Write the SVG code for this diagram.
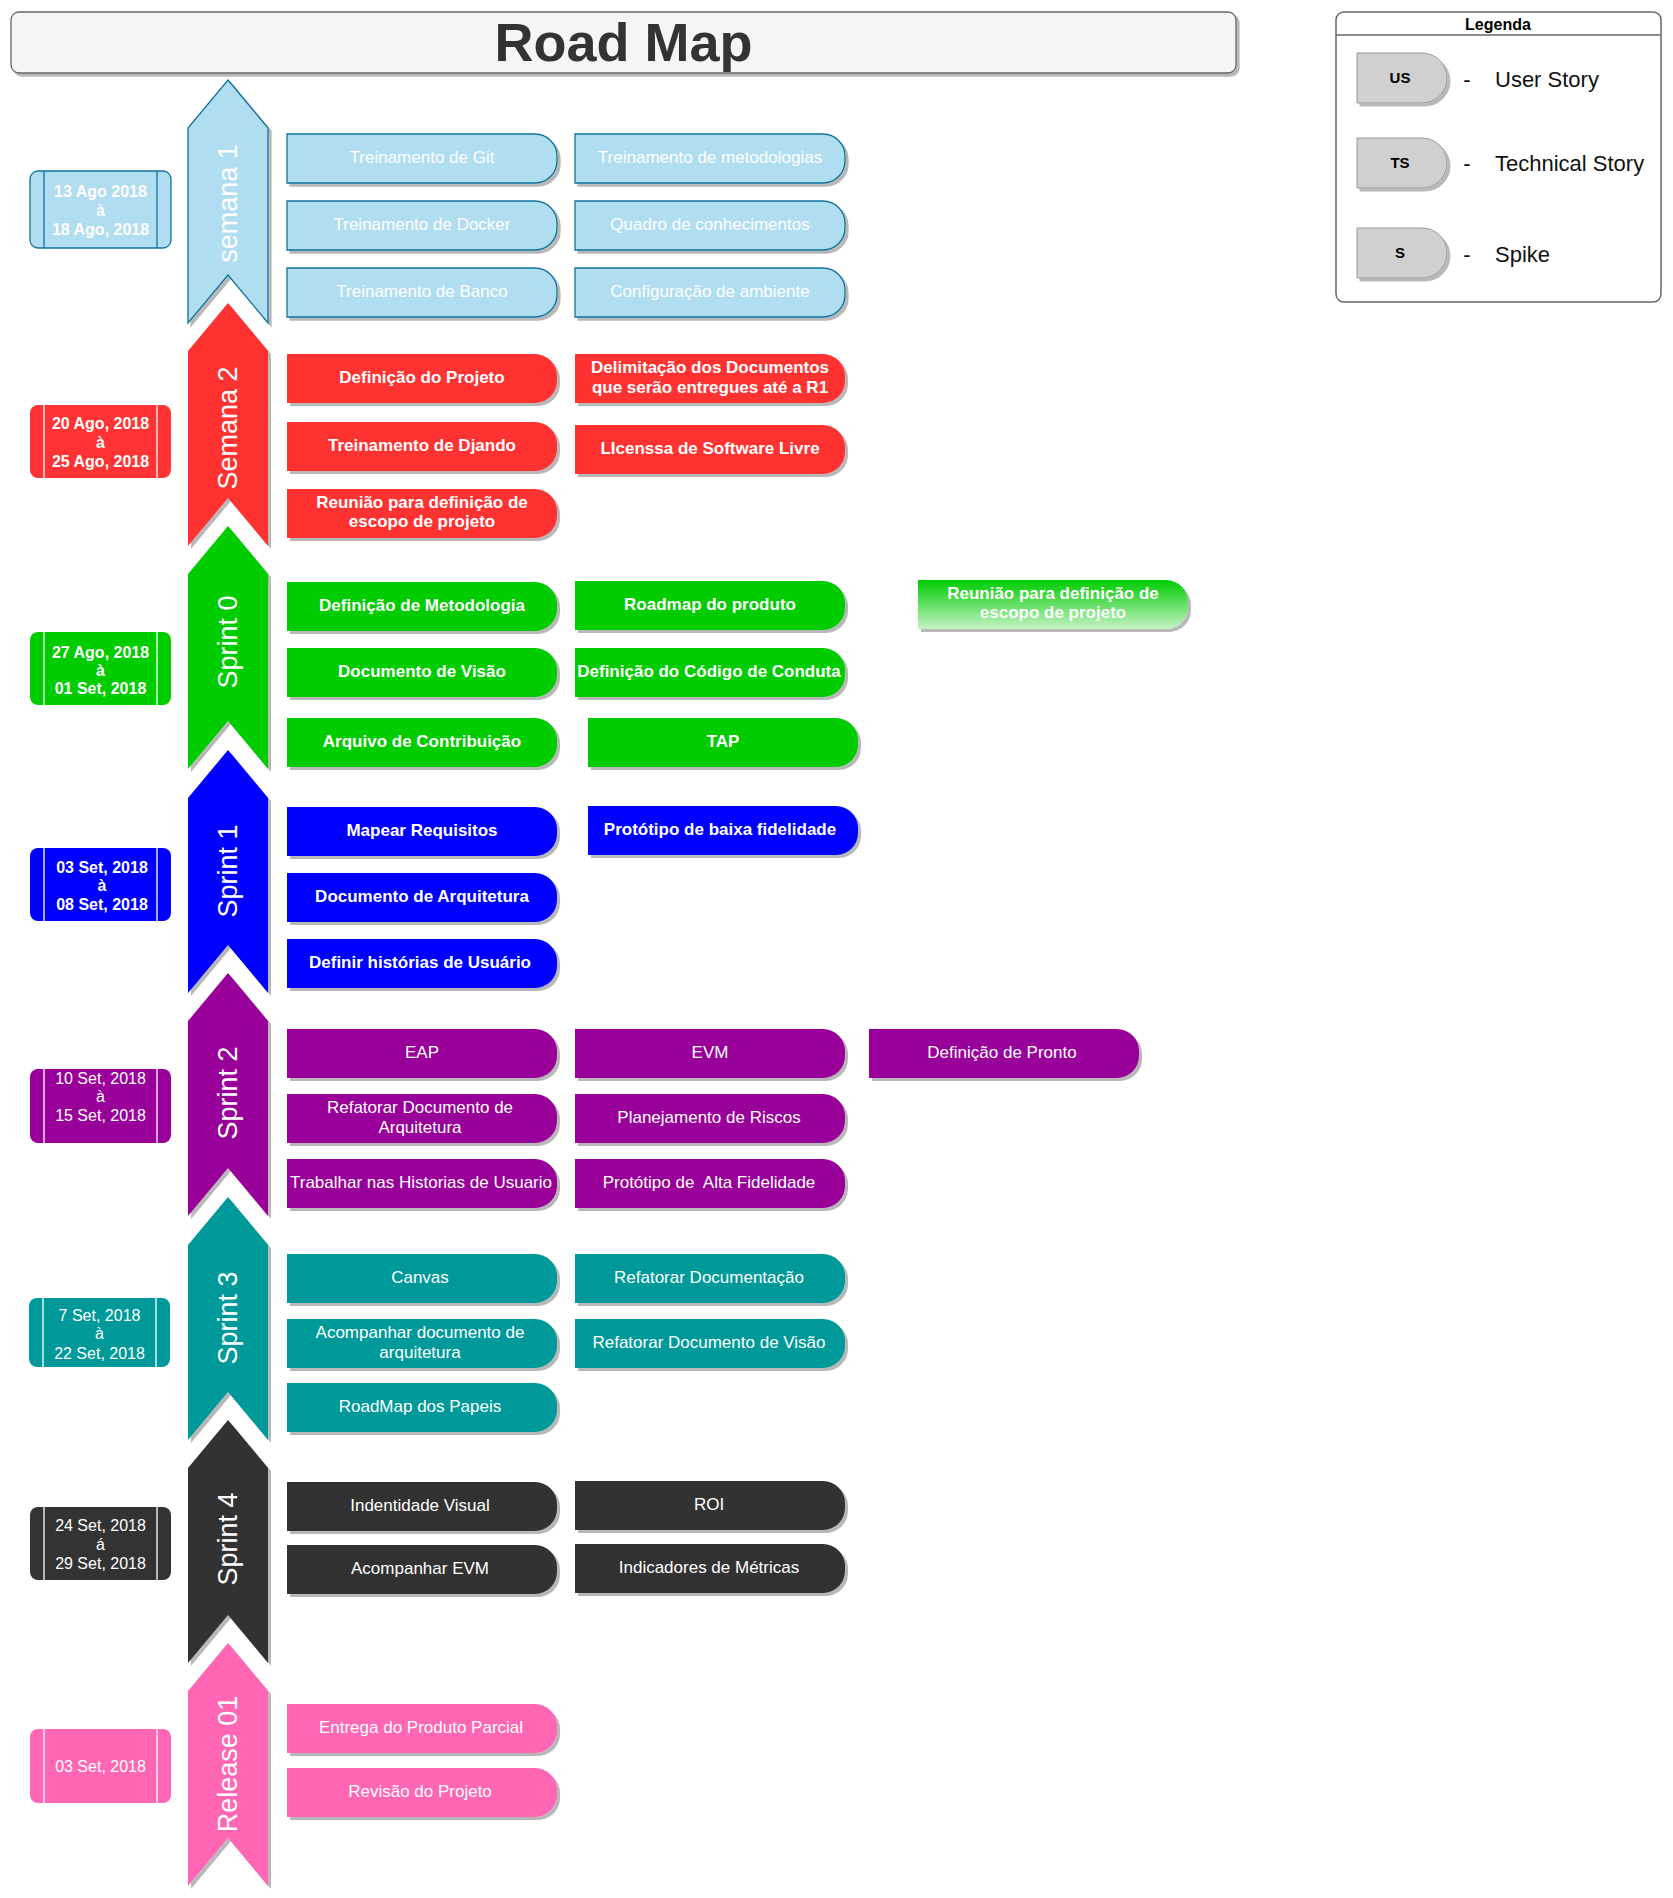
<svg xmlns="http://www.w3.org/2000/svg" xmlns:xlink="http://www.w3.org/1999/xlink" width="1673" height="1898" viewBox="0 0 1673 1898">
<style>
text{font-family:"Liberation Sans",Arial,sans-serif}
.t{font-size:17px;fill:#fff;text-anchor:middle;transform:translateY(-1.5px)}
.b{font-weight:bold}
.d{font-size:16px;fill:#fff;text-anchor:middle}
.lbl{font-size:27px;fill:#fff;text-anchor:middle}
.sh{filter:url(#sh)}
.s1{fill:#B1DDF0;stroke:#10739E;stroke-width:1.3}
.red{fill:#FF3333}
.grn{fill:#00CC00}
.blu{fill:#0000FF}
.pur{fill:#990099}
.tea{fill:#009999}
.drk{fill:#333333}
.pnk{fill:#FF66B3}
.dl{stroke:#fff;stroke-width:1.3}
.dl1{stroke:#10739E;stroke-width:1.3}
.lt{font-size:22px;fill:#111}
.lk{font-size:15px;font-weight:bold;fill:#000;text-anchor:middle}
</style>
<defs>
<filter id="sh" x="-10%" y="-10%" width="130%" height="130%">
<feDropShadow dx="3" dy="3" stdDeviation="0.7" flood-color="#000" flood-opacity="0.28"/>
</filter>
<linearGradient id="gg" x1="0" y1="0" x2="0" y2="1">
<stop offset="0" stop-color="#00CC00"/>
<stop offset="1" stop-color="#C6F2C6"/>
</linearGradient>
<path id="card" d="M0 0 H248 A22 22 0 0 1 270 22 V27 A22 22 0 0 1 248 49 H0 Z"/>
<path id="lcard" d="M0 0 H65 A25 25 0 0 1 90 25 A25 25 0 0 1 65 50 H0 Z"/>
<path id="chev" d="M40 0 L80 48 L80 243 L40 195 L0 243 L0 48 Z"/>
</defs>
<rect width="1673" height="1898" fill="#fff"/>

<g id="title">
<rect x="11" y="12" width="1225" height="61" rx="8" fill="#F5F5F5" stroke="#666" stroke-width="1.3" class="sh"/>
<text x="623.5" y="61" style="font-size:54px;font-weight:bold;fill:#333;text-anchor:middle">Road Map</text>
</g>

<g id="legend">
<rect x="1336" y="12" width="325" height="290" rx="8" fill="#fff" stroke="#666" stroke-width="1.5"/>
<line x1="1336" y1="35" x2="1661" y2="35" stroke="#666" stroke-width="1.5"/>
<text x="1498" y="30" style="font-size:16px;font-weight:bold;fill:#000;text-anchor:middle">Legenda</text>
<g id="leg-us"><use href="#lcard" x="1357" y="53" fill="#D0D0D0" stroke="#999" class="sh"/><text class="lk" x="1400" y="83">US</text><text class="lt" x="1467" y="87" text-anchor="middle">-</text><text class="lt" x="1495" y="87">User Story</text></g>
<g id="leg-ts"><use href="#lcard" x="1357" y="138" fill="#D0D0D0" stroke="#999" class="sh"/><text class="lk" x="1400" y="168">TS</text><text class="lt" x="1467" y="171" text-anchor="middle">-</text><text class="lt" x="1495" y="171">Technical Story</text></g>
<g id="leg-s"><use href="#lcard" x="1357" y="228" fill="#D0D0D0" stroke="#999" class="sh"/><text class="lk" x="1400" y="258">S</text><text class="lt" x="1467" y="262" text-anchor="middle">-</text><text class="lt" x="1495" y="262">Spike</text></g>
</g>

<g id="connectors"></g>

<!-- Chevrons -->
<g id="chev-semana1"><use href="#chev" x="188" y="80" class="s1 sh"/><text class="lbl" transform="translate(237,203.5) rotate(-90)">semana 1</text></g>
<g id="chev-semana2"><use href="#chev" x="188" y="303" class="red sh"/><text class="lbl" transform="translate(237,428) rotate(-90)">Semana 2</text></g>
<g id="chev-sprint0"><use href="#chev" x="188" y="526" class="grn sh"/><text class="lbl" transform="translate(237,642) rotate(-90)">Sprint 0</text></g>
<g id="chev-sprint1"><use href="#chev" x="188" y="750" class="blu sh"/><text class="lbl" transform="translate(237,871) rotate(-90)">Sprint 1</text></g>
<g id="chev-sprint2"><use href="#chev" x="188" y="973" class="pur sh"/><text class="lbl" transform="translate(237,1093) rotate(-90)">Sprint 2</text></g>
<g id="chev-sprint3"><use href="#chev" x="188" y="1197" class="tea sh"/><text class="lbl" transform="translate(237,1318) rotate(-90)">Sprint 3</text></g>
<g id="chev-sprint4"><use href="#chev" x="188" y="1420" class="drk sh"/><text class="lbl" transform="translate(237,1539) rotate(-90)">Sprint 4</text></g>
<g id="chev-release"><use href="#chev" x="188" y="1643" class="pnk sh"/><text class="lbl" transform="translate(237,1764) rotate(-90)">Release 01</text></g>

<!-- Date boxes -->
<g id="date-semana1"><rect x="30" y="171" width="141" height="77" rx="8" class="s1"/><line x1="44" y1="171" x2="44" y2="248" class="dl1"/><line x1="157" y1="171" x2="157" y2="248" class="dl1"/>
<text class="d b" x="100.5" y="196.5">13 Ago 2018</text><text class="d b" x="100.5" y="215.5">à</text><text class="d b" x="100.5" y="234.5">18 Ago, 2018</text></g>
<g id="date-semana2"><rect x="30" y="405" width="141" height="73" rx="8" class="red"/><line x1="44" y1="405" x2="44" y2="478" class="dl"/><line x1="157" y1="405" x2="157" y2="478" class="dl"/>
<text class="d b" x="100.5" y="428.5">20 Ago, 2018</text><text class="d b" x="100.5" y="447.5">à</text><text class="d b" x="100.5" y="466.5">25 Ago, 2018</text></g>
<g id="date-sprint0"><rect x="30" y="632" width="141" height="73" rx="8" class="grn"/><line x1="44" y1="632" x2="44" y2="705" class="dl"/><line x1="157" y1="632" x2="157" y2="705" class="dl"/>
<text class="d b" x="100.5" y="657.5">27 Ago, 2018</text><text class="d b" x="100.5" y="675.5">à</text><text class="d b" x="100.5" y="693.5">01 Set, 2018</text></g>
<g id="date-sprint1"><rect x="30" y="848" width="141" height="73" rx="8" class="blu"/><line x1="44" y1="848" x2="44" y2="921" class="dl"/><line x1="157" y1="848" x2="157" y2="921" class="dl"/>
<text class="d b" x="102" y="872.5">03 Set, 2018</text><text class="d b" x="102" y="891">à</text><text class="d b" x="102" y="909.5">08 Set, 2018</text></g>
<g id="date-sprint2"><rect x="30" y="1069" width="141" height="74" rx="8" class="pur"/><line x1="44" y1="1069" x2="44" y2="1143" class="dl"/><line x1="157" y1="1069" x2="157" y2="1143" class="dl"/>
<text class="d" x="100.5" y="1083.5">10 Set, 2018</text><text class="d" x="100.5" y="1102">à</text><text class="d" x="100.5" y="1120.5">15 Set, 2018</text></g>
<g id="date-sprint3"><rect x="29" y="1298" width="141" height="69" rx="8" class="tea"/><line x1="43" y1="1298" x2="43" y2="1367" class="dl"/><line x1="156" y1="1298" x2="156" y2="1367" class="dl"/>
<text class="d" x="99.5" y="1320.5">7 Set, 2018</text><text class="d" x="99.5" y="1339">à</text><text class="d" x="99.5" y="1358.5">22 Set, 2018</text></g>
<g id="date-sprint4"><rect x="30" y="1507" width="141" height="73" rx="8" class="drk"/><line x1="44" y1="1507" x2="44" y2="1580" class="dl"/><line x1="157" y1="1507" x2="157" y2="1580" class="dl"/>
<text class="d" x="100.5" y="1530.5">24 Set, 2018</text><text class="d" x="100.5" y="1549.5">á</text><text class="d" x="100.5" y="1568.5">29 Set, 2018</text></g>
<g id="date-release"><rect x="30" y="1729" width="141" height="74" rx="8" class="pnk"/><line x1="44" y1="1729" x2="44" y2="1803" class="dl"/><line x1="157" y1="1729" x2="157" y2="1803" class="dl"/>
<text class="d" x="100.5" y="1772">03 Set, 2018</text></g>

<!-- Semana 1 -->
<g id="s1-git"><use href="#card" x="287" y="134" class="s1 sh"/><text class="t" x="422" y="164.5">Treinamento de Git</text></g>
<g id="s1-metod"><use href="#card" x="575" y="134" class="s1 sh"/><text class="t" x="710" y="164.5">Treinamento de metodologias</text></g>
<g id="s1-docker"><use href="#card" x="287" y="201" class="s1 sh"/><text class="t" x="422" y="231.5">Treinamento de Docker</text></g>
<g id="s1-quadro"><use href="#card" x="575" y="201" class="s1 sh"/><text class="t" x="710" y="231.5">Quadro de conhecimentos</text></g>
<g id="s1-banco"><use href="#card" x="287" y="268" class="s1 sh"/><text class="t" x="422" y="298.5">Treinamento de Banco</text></g>
<g id="s1-config"><use href="#card" x="575" y="268" class="s1 sh"/><text class="t" x="710" y="298.5">Configuração de ambiente</text></g>

<!-- Semana 2 -->
<g id="s2-defproj"><use href="#card" x="287" y="354" class="red sh"/><text class="t b" x="422" y="384.5">Definição do Projeto</text></g>
<g id="s2-delim"><use href="#card" x="575" y="354" class="red sh"/><text class="t b" x="710" y="374">Delimitação dos Documentos</text><text class="t b" x="710" y="394">que serão entregues até a R1</text></g>
<g id="s2-django"><use href="#card" x="287" y="422" class="red sh"/><text class="t b" x="422" y="452.5">Treinamento de Djando</text></g>
<g id="s2-lic"><use href="#card" x="575" y="425" class="red sh"/><text class="t b" x="710" y="455.5">LIcenssa de Software Livre</text></g>
<g id="s2-reuniao"><use href="#card" x="287" y="489" class="red sh"/><text class="t b" x="422" y="509.5">Reunião para definição de</text><text class="t b" x="422" y="528.5">escopo de projeto</text></g>

<!-- Sprint 0 -->
<g id="sp0-metod"><use href="#card" x="287" y="582" class="grn sh"/><text class="t b" x="422" y="612.5">Definição de Metodologia</text></g>
<g id="sp0-roadmap"><use href="#card" x="575" y="581" class="grn sh"/><text class="t b" x="710" y="611.5">Roadmap do produto</text></g>
<g id="sp0-reuniao"><use href="#card" x="918" y="580" fill="url(#gg)" class="sh"/><text class="t b" x="1053" y="600.5">Reunião para definição de</text><text class="t b" x="1053" y="619.5">escopo de projeto</text></g>
<g id="sp0-visao"><use href="#card" x="287" y="648" class="grn sh"/><text class="t b" x="422" y="678.5">Documento de Visão</text></g>
<g id="sp0-conduta"><use href="#card" x="575" y="648" class="grn sh"/><text class="t b" x="709" y="678.5">Definição do Código de Conduta</text></g>
<g id="sp0-contrib"><use href="#card" x="287" y="718" class="grn sh"/><text class="t b" x="422" y="748.5">Arquivo de Contribuição</text></g>
<g id="sp0-tap"><use href="#card" x="588" y="718" class="grn sh"/><text class="t b" x="723" y="748.5">TAP</text></g>

<!-- Sprint 1 -->
<g id="sp1-req"><use href="#card" x="287" y="807" class="blu sh"/><text class="t b" x="422" y="837.5">Mapear Requisitos</text></g>
<g id="sp1-proto"><use href="#card" x="588" y="806" class="blu sh"/><text class="t b" x="720" y="836.5">Protótipo de baixa fidelidade</text></g>
<g id="sp1-arq"><use href="#card" x="287" y="873" class="blu sh"/><text class="t b" x="422" y="903.5">Documento de Arquitetura</text></g>
<g id="sp1-hist"><use href="#card" x="287" y="939" class="blu sh"/><text class="t b" x="420" y="969.5">Definir histórias de Usuário</text></g>

<!-- Sprint 2 -->
<g id="sp2-eap"><use href="#card" x="287" y="1029" class="pur sh"/><text class="t" x="422" y="1059.5">EAP</text></g>
<g id="sp2-evm"><use href="#card" x="575" y="1029" class="pur sh"/><text class="t" x="710" y="1059.5">EVM</text></g>
<g id="sp2-pronto"><use href="#card" x="869" y="1029" class="pur sh"/><text class="t" x="1002" y="1059.5">Definição de Pronto</text></g>
<g id="sp2-refat"><use href="#card" x="287" y="1094" class="pur sh"/><text class="t" x="420" y="1114.5">Refatorar Documento de</text><text class="t" x="420" y="1134">Arquitetura</text></g>
<g id="sp2-riscos"><use href="#card" x="575" y="1094" class="pur sh"/><text class="t" x="709" y="1124.5">Planejamento de Riscos</text></g>
<g id="sp2-hist"><use href="#card" x="287" y="1159" class="pur sh"/><text class="t" x="421" y="1189.5">Trabalhar nas Historias de Usuario</text></g>
<g id="sp2-alta"><use href="#card" x="575" y="1159" class="pur sh"/><text class="t" x="709" y="1189.5" xml:space="preserve">Protótipo de  Alta Fidelidade</text></g>

<!-- Sprint 3 -->
<g id="sp3-canvas"><use href="#card" x="287" y="1254" class="tea sh"/><text class="t" x="420" y="1284.5">Canvas</text></g>
<g id="sp3-refdoc"><use href="#card" x="575" y="1254" class="tea sh"/><text class="t" x="709" y="1284.5">Refatorar Documentação</text></g>
<g id="sp3-acomp"><use href="#card" x="287" y="1319" class="tea sh"/><text class="t" x="420" y="1339.5">Acompanhar documento de</text><text class="t" x="420" y="1359">arquitetura</text></g>
<g id="sp3-visao"><use href="#card" x="575" y="1319" class="tea sh"/><text class="t" x="709" y="1349.5">Refatorar Documento de Visão</text></g>
<g id="sp3-papeis"><use href="#card" x="287" y="1383" class="tea sh"/><text class="t" x="420" y="1413.5">RoadMap dos Papeis</text></g>

<!-- Sprint 4 -->
<g id="sp4-ident"><use href="#card" x="287" y="1482" class="drk sh"/><text class="t" x="420" y="1512.5">Indentidade Visual</text></g>
<g id="sp4-roi"><use href="#card" x="575" y="1481" class="drk sh"/><text class="t" x="709" y="1511.5">ROI</text></g>
<g id="sp4-evm"><use href="#card" x="287" y="1545" class="drk sh"/><text class="t" x="420" y="1575.5">Acompanhar EVM</text></g>
<g id="sp4-ind"><use href="#card" x="575" y="1544" class="drk sh"/><text class="t" x="709" y="1574.5">Indicadores de Métricas</text></g>

<!-- Release -->
<g id="rel-entrega"><use href="#card" x="287" y="1704" class="pnk sh"/><text class="t" x="421" y="1734.5">Entrega do Produto Parcial</text></g>
<g id="rel-revisao"><use href="#card" x="287" y="1768" class="pnk sh"/><text class="t" x="420" y="1798.5">Revisão do Projeto</text></g>
</svg>
